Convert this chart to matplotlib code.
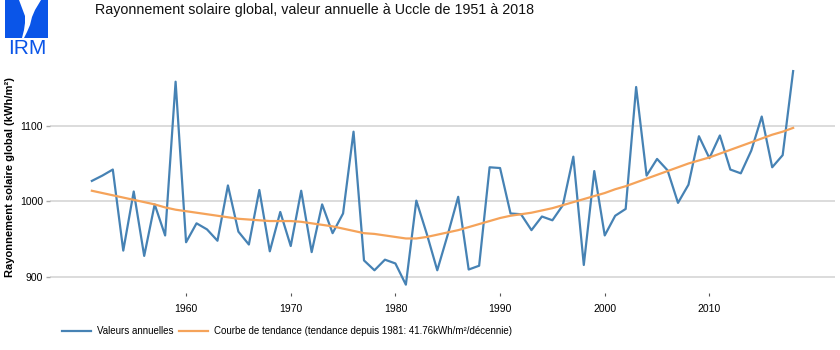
import matplotlib
matplotlib.use('Agg')
import matplotlib.pyplot as plt
from matplotlib.patches import Polygon, Rectangle

plt.rcParams['font.family'] = ['Liberation Sans', 'DejaVu Sans']

years = list(range(1951, 2019))
annual = [1027, 1034, 1042, 935, 1013, 928, 996, 955, 1158, 946,
          971, 963, 948, 1021, 960, 943, 1015, 934, 986, 941,
          1014, 933, 996, 958, 984, 1092, 922, 909, 923, 918,
          890, 1001, 957, 909, 956, 1006, 910, 915, 1045, 1044,
          984, 983, 962, 980, 975, 995, 1059, 916, 1040, 955,
          981, 990, 1151, 1034, 1056, 1041, 998, 1022, 1086, 1057,
          1087, 1042, 1037, 1067, 1112, 1045, 1061, 1172]
trend = [1014, 1011, 1008, 1005, 1002, 999, 996, 992, 989, 987,
         985, 983, 981, 979, 977, 976, 975, 974, 974, 974,
         973, 971, 969, 967, 964, 961, 958, 957, 955, 953,
         951, 951, 953, 956, 959, 962, 966, 970, 974, 978,
         981, 983, 985, 988, 991, 995, 999, 1003, 1007, 1011,
         1016, 1020, 1025, 1030, 1035, 1040, 1045, 1050, 1054, 1058,
         1063, 1068, 1073, 1078, 1083, 1088, 1092, 1097]
yticks = [900, 1000, 1100]
xticks = [1960, 1970, 1980, 1990, 2000, 2010]

W, H = 840, 350
fig = plt.figure(figsize=(W / 100, H / 100), dpi=100)

# logo layer in pixel coords
bg = fig.add_axes([0, 0, 1, 1])
bg.set_xlim(0, W)
bg.set_ylim(H, 0)
bg.axis('off')
blue = '#0a55e8'
bg.add_patch(Rectangle((5, 0), 43, 38, color=blue, lw=0))
bg.add_patch(Polygon([(19, 0), (22, 8), (25, 16), (25, 23), (24, 30), (22, 38),
                      (24, 38), (27, 32), (30, 25), (32, 17), (35, 10), (38, 5), (41, 0)],
                     closed=True, color='white', lw=0))
bg.text(27, 48, 'IRM', color=blue, fontsize=15, ha='center', va='center')

ax = fig.add_axes([50 / W, 1 - 293 / H, 785 / W, 231 / H])
ax.plot(years, annual, color='#4682b4', lw=1.6, label='Valeurs annuelles')
ax.plot(years, trend, color='#f5a35a', lw=1.6,
        label='Courbe de tendance (tendance depuis 1981: 41.76kWh/m²/décennie)')
ax.set_xlim(1947, 2022)
ax.set_ylim(879, 1184)
ax.set_yticks(yticks)
ax.set_xticks(xticks)
ax.grid(axis='y', color='#dcdcdc', lw=1.4)
ax.set_axisbelow(True)
for s in ax.spines.values():
    s.set_visible(False)
ax.tick_params(axis='y', length=3, width=1, color='#aaaaaa', labelsize=7.5, pad=2)
ax.tick_params(axis='x', length=2, width=0.8, color='#555555', labelsize=7.5, pad=6)
ax.set_ylabel('Rayonnement solaire global (kWh/m²)', fontsize=8, fontweight='bold')
ax.yaxis.set_label_coords(-35 / 785, 0.5)

fig.text(95 / W, 1 - 10 / H, 'Rayonnement solaire global, valeur annuelle à Uccle de 1951 à 2018',
         fontsize=10.3, ha='left', va='center', color='#111111')

fig.legend(loc='center left', bbox_to_anchor=(62 / W, 1 - 331 / H), ncol=2, frameon=False,
           fontsize=7, handlelength=3.0, handletextpad=0.6, columnspacing=0.6,
           borderaxespad=0, borderpad=0)

fig.savefig('out.png', dpi=100)
